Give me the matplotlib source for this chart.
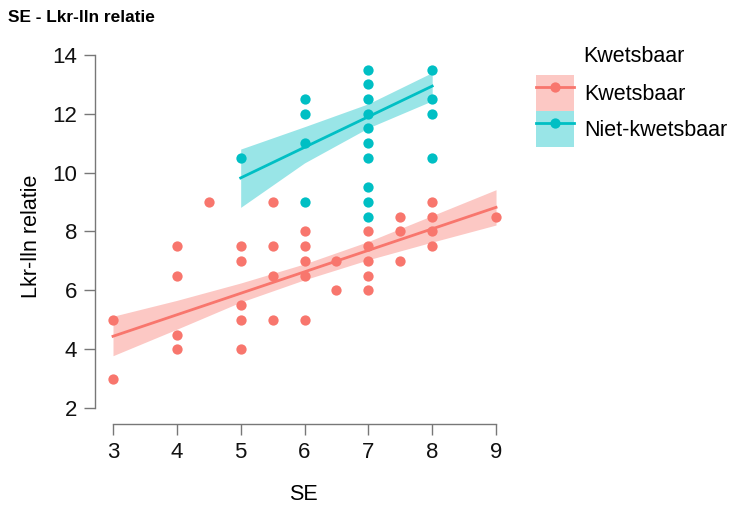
import matplotlib
matplotlib.use('Agg')
import matplotlib.pyplot as plt
from matplotlib.patches import Patch
from matplotlib.lines import Line2D
from matplotlib.legend_handler import HandlerTuple

plt.rcParams['font.family'] = ['Liberation Sans', 'DejaVu Sans']

# data
red_se = [3, 3, 4, 4, 4, 4, 4.5, 5, 5, 5, 5, 5, 5.5, 5.5, 5.5, 5.5,
          6, 6, 6, 6, 6, 6.5, 6.5, 7, 7, 7, 7, 7, 7.5, 7.5, 7.5, 8, 8, 8, 8, 9]
red_lkr = [5, 3, 7.5, 6.5, 4.5, 4, 9, 7.5, 7, 5.5, 5, 4, 9, 7.5, 6.5, 5,
           8, 7.5, 7, 6.5, 5, 7, 6, 8, 7.5, 7, 6.5, 6, 8.5, 8, 7, 9, 8.5, 8, 7.5, 8.5]

teal_se = [5, 6, 6, 6, 6, 7, 7, 7, 7, 7, 7, 7, 7, 7, 7, 8, 8, 8, 8]
teal_lkr = [10.5, 12.5, 12, 11, 9, 13.5, 13, 12.5, 12, 11.5, 11, 10.5, 9.5, 9, 8.5,
            13.5, 12.5, 12, 10.5]

# regression lines + confidence bands
red_fit_x = [3, 4, 5, 6, 7, 8, 9]
red_fit = [4.44, 5.17, 5.90, 6.63, 7.36, 8.09, 8.82]
red_lo = [3.78, 4.68, 5.60, 6.36, 7.04, 7.64, 8.22]
red_hi = [5.12, 5.66, 6.25, 6.90, 7.66, 8.54, 9.42]

teal_fit_x = [5, 6, 7, 8]
teal_fit = [9.82, 10.86, 11.90, 12.94]
teal_lo = [8.82, 10.33, 11.52, 12.44]
teal_hi = [10.80, 11.56, 12.34, 13.40]

labels = ['Kwetsbaar', 'Niet-kwetsbaar']
red = '#F8766D'
teal = '#00BFC4'

fig = plt.figure(figsize=(7.35, 5.05), dpi=100)
ax = fig.add_axes([95 / 735, 81 / 505, 417 / 735, 375 / 505])

ax.fill_between(red_fit_x, red_lo, red_hi, color=red, alpha=0.4, lw=0, zorder=1)
ax.fill_between(teal_fit_x, teal_lo, teal_hi, color=teal, alpha=0.4, lw=0, zorder=1)
ax.plot(red_fit_x, red_fit, color=red, lw=2, zorder=2)
ax.plot(teal_fit_x, teal_fit, color=teal, lw=2, zorder=2)
ax.plot(red_se, red_lkr, 'o', color=red, ms=7.4, mec='none', zorder=3)
ax.plot(teal_se, teal_lkr, 'o', color=teal, ms=7.4, mec='none', zorder=3)

ax.set_xlim(2.718, 9.25)
ax.set_ylim(1.46, 14.2)
ax.set_xticks([3, 4, 5, 6, 7, 8, 9])
ax.set_yticks([2, 4, 6, 8, 10, 12, 14])

for s in ['top', 'right']:
    ax.spines[s].set_visible(False)
ax.spines['left'].set_bounds(2, 14)
ax.spines['bottom'].set_bounds(3, 9)
for s in ['left', 'bottom']:
    ax.spines[s].set_color('#777777')
    ax.spines[s].set_linewidth(1)
ax.tick_params(colors='#777777', labelcolor='#111111', labelsize=16, length=8, width=1, pad=5)

ax.set_xlabel('SE', fontsize=15.5, labelpad=15)
ax.set_ylabel('Lkr-lln relatie', fontsize=15.5, labelpad=7)

fig.text(8 / 735, 1 - 17 / 505, 'SE - Lkr-lln relatie', fontsize=12.4,
         fontweight='bold', va='center', ha='left')

# legend
handles = []
for c in [red, teal]:
    handles.append((Patch(facecolor=c, alpha=0.4, lw=0),
                    Line2D([], [], color=c, lw=2, marker='o', ms=7.4, mec='none')))
fig.legend(handles, labels, loc='upper left', bbox_to_anchor=(536 / 735, 1 - 75 / 505),
           bbox_transform=fig.transFigure, frameon=False, fontsize=15.5,
           handler_map={tuple: HandlerTuple(ndivide=1, pad=0)},
           handlelength=1.75, handleheight=2.2, labelspacing=0, handletextpad=0.5,
           borderpad=0, borderaxespad=0)
fig.text(583 / 735, 1 - 56 / 505, 'Kwetsbaar', fontsize=15.5, va='center', ha='left')

fig.savefig('out.png', dpi=100)
